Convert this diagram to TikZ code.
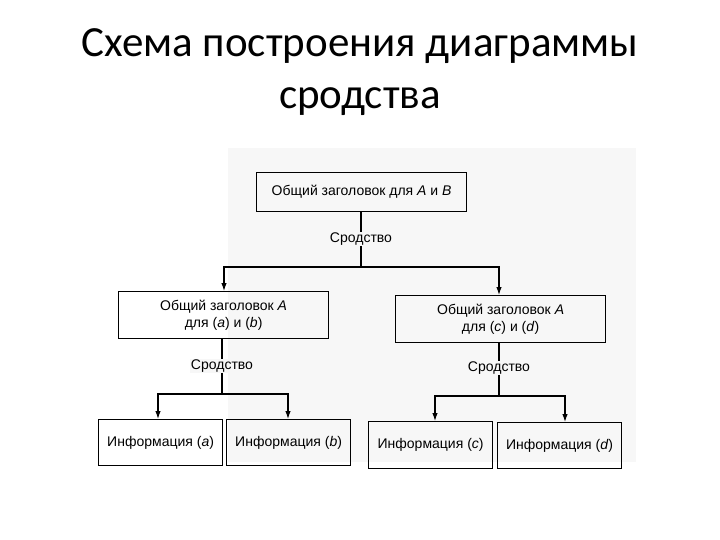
\documentclass[tikz,border=0pt]{standalone}
\usepackage{fontspec}
\usetikzlibrary{arrows.meta}
\setmainfont{Liberation Sans}
\newfontfamily\titlefont{Carlito}
\begin{document}
\begin{tikzpicture}[x=1pt,y=-1pt,
  bx/.style={draw,line width=1.2pt,inner sep=0pt,anchor=north west,align=center,font=\fontsize{14}{17}\selectfont},
  lbl/.style={fill=gray!6,inner sep=1pt,font=\fontsize{14}{17}\selectfont},
  ln/.style={line width=1.1pt},
  ar/.style={line width=1.1pt,-{Latex[length=8pt,width=5.5pt]}}]
\useasboundingbox (0,0) rectangle (720,540);
\fill[gray!6] (228,148) rectangle (636,462);
\node[font=\fontsize{43}{52}\selectfont\titlefont,align=center] (title) at (360,72) {Схема построения диаграммы\\сродства};
\node[bx,minimum width=210pt,minimum height=39pt] (top) at (256,172) {Общий заголовок для \textit{A} и \textit{B}};
\node[bx,minimum width=210pt,minimum height=47pt] (ml) at (118,291) {Общий заголовок \textit{A}\\для (\textit{a}) и (\textit{b})};
\node[bx,minimum width=210pt,minimum height=47pt] (mr) at (395,295) {Общий заголовок \textit{A}\\для (\textit{c}) и (\textit{d})};
\node[bx,minimum width=124pt,minimum height=46pt] (ba) at (98,419) {Информация (\textit{a})};
\node[bx,minimum width=124pt,minimum height=46pt] (bb) at (226,419) {Информация (\textit{b})};
\node[bx,minimum width=124pt,minimum height=47pt] (bc) at (368,421) {Информация (\textit{c})};
\node[bx,minimum width=124pt,minimum height=46pt] (bd) at (497,422) {Информация (\textit{d})};
\coordinate (j1) at (361,267);
\coordinate (j2) at (222,394);
\coordinate (j3) at (499,396);
\draw[ln] (top.south -| j1) -- (j1);
\node[lbl] (s1) at (361,239) {Сродство};
\draw[ar] (j1) -- (224,267) -- (224,291);
\draw[ar] (j1) -- (499,267) -- (499,295);
\draw[ln] (ml.south -| j2) -- (j2);
\node[lbl] (s2) at (222,366) {Сродство};
\draw[ar] (j2) -- (158,394) -- (158,419);
\draw[ar] (j2) -- (288,394) -- (288,419);
\draw[ln] (mr.south -| j3) -- (j3);
\node[lbl] (s3) at (499,368) {Сродство};
\draw[ar] (j3) -- (435,396) -- (435,421);
\draw[ar] (j3) -- (565,396) -- (565,422);
\end{tikzpicture}
\end{document}
